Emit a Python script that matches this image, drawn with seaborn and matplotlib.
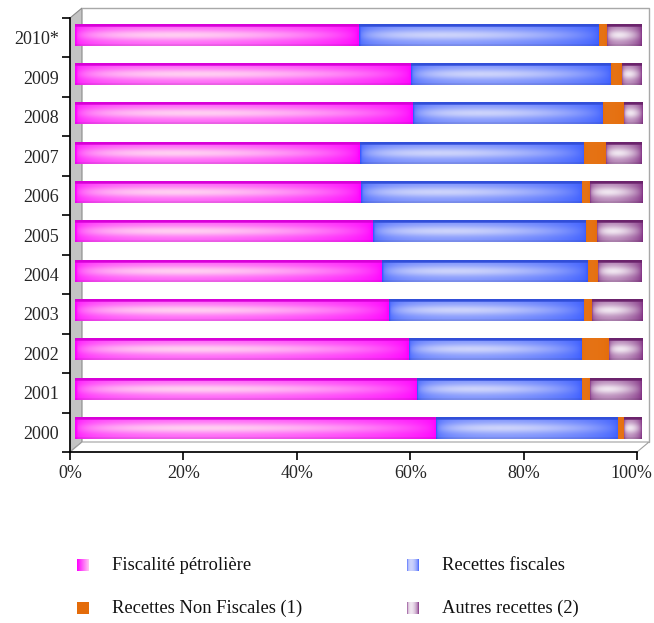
import numpy as np
import pandas as pd
import matplotlib
matplotlib.use("Agg")
import matplotlib.pyplot as plt
import seaborn as sns
from matplotlib.patches import Polygon
from matplotlib.colors import to_rgb

# ---- data (share of total revenue, %) ----
years = ["2010*", "2009", "2008", "2007", "2006", "2005", "2004", "2003", "2002", "2001", "2000"]
fiscalite_petroliere = [50.0, 59.3, 59.6, 50.2, 50.4, 52.5, 54.2, 55.3, 58.9, 60.4, 63.7]
recettes_fiscales = [42.5, 35.3, 33.6, 39.6, 39.1, 37.6, 36.2, 34.5, 30.5, 29.0, 32.1]
recettes_non_fiscales = [1.4, 1.9, 3.6, 3.9, 1.3, 1.9, 1.9, 1.3, 4.7, 1.5, 1.1]
autres_recettes = [6.1, 3.5, 3.2, 6.3, 9.2, 8.0, 7.7, 8.9, 5.9, 9.1, 3.1]

series_names = ["Fiscalité pétrolière", "Recettes fiscales",
                "Recettes Non Fiscales (1)", "Autres recettes (2)"]
x_ticks = [0, 20, 40, 60, 80, 100]
x_tick_labels = ["0%", "20%", "40%", "60%", "80%", "100%"]

# colour: (base, light tint, strength of the highlight)
styles = [
    ("#FF00FF", "#FFEAF0", 0.88),
    ("#3A5CFF", "#E6E8FB", 0.85),
    ("#E46C0A", "#F6B070", 0.10),
    ("#7E2A80", "#F6F0F6", 0.95),
]

W, H = 654, 623
FONT = "Liberation Serif"
sns.set_theme(style="white")
plt.rcParams["font.family"] = [FONT, "DejaVu Serif"]

fig = plt.figure(figsize=(W / 100, H / 100), dpi=100)


def fig_rect(x0, y0, x1, y1):
    return [x0 / W, 1 - y1 / H, (x1 - x0) / W, (y1 - y0) / H]


def shading(base, light, strength, nx=160, ny=48, horizontal_only=False):
    c = np.array(to_rgb(base))
    lt = np.array(to_rgb(light))
    u = np.linspace(0, 1, nx)[None, :]
    v = np.linspace(0, 1, ny)[:, None]
    hp = np.sin(np.pi * np.clip(u, 0, 1) ** 0.65) ** 0.55
    if horizontal_only:
        m = strength * hp * np.ones_like(v)
        return c * (1 - m[..., None]) + lt * m[..., None]
    vp = 0.5 + 0.5 * np.exp(-((v - 0.5) / 0.24) ** 2)
    m = strength * hp * vp
    m = np.where(v < 0.12, 0.0, m)
    img = c * (1 - m[..., None]) + lt * m[..., None]
    # darker top face and lower rim
    dark = np.where(v < 0.12, 0.85, np.where(v > 0.93, 0.92, 1.0))
    img = img * dark[..., None]
    return np.clip(img, 0, 1)


# ---- background: 3D box (left wall, floor, back frame) ----
ax_bg = fig.add_axes([0, 0, 1, 1], zorder=0)
ax_bg.set_xlim(0, W)
ax_bg.set_ylim(H, 0)
ax_bg.axis("off")

fx0, fx1, fy0, fy1 = 70, 637, 18, 452   # front plane
dx, dy = 12, -10                          # depth offset
ax_bg.add_patch(Polygon([(fx0, fy0), (fx0 + dx, fy0 + dy), (fx0 + dx, fy1 + dy), (fx0, fy1)],
                        closed=True, facecolor="#C4C4C4", edgecolor="#8A8A8A", lw=0.8))
ax_bg.add_patch(Polygon([(fx0, fy1), (fx1, fy1), (fx1 + dx, fy1 + dy), (fx0 + dx, fy1 + dy)],
                        closed=True, facecolor="white", edgecolor="#A0A0A0", lw=0.8))
ax_bg.plot([fx0 + dx, fx1 + dx, fx1 + dx], [fy0 + dy, fy0 + dy, fy1 + dy],
           color="#A8A8A8", lw=1.0)

# ---- stacked bars ----
df = pd.DataFrame({"year": years,
                   series_names[0]: fiscalite_petroliere,
                   series_names[1]: recettes_fiscales,
                   series_names[2]: recettes_non_fiscales,
                   series_names[3]: autres_recettes})
cum = df[series_names].cumsum(axis=1)
cum["year"] = df["year"]

ax = fig.add_axes(fig_rect(75, 15, 642, 448), zorder=1)
ax.patch.set_visible(False)
bar_w = 0.55
# draw totals first, each following series on top of the previous one
for name, (base, light, s) in zip(series_names[::-1], styles[::-1]):
    sns.barplot(data=cum, y="year", x=name, order=years, orient="h",
                color=base, width=bar_w, saturation=1, ax=ax, edgecolor="none")

# gradient faces for every visible segment
prev = np.zeros(len(years))
for k, (name, (base, light, s)) in enumerate(zip(series_names, styles)):
    right = cum[name].to_numpy()
    img = shading(base, light, s, horizontal_only=(k == 2))
    for i in range(len(years)):
        ax.imshow(img, extent=(prev[i], right[i], i + bar_w / 2, i - bar_w / 2),
                  aspect="auto", interpolation="bilinear", zorder=3)
    prev = right
ax.set_xlim(0, 100)
ax.set_ylim(len(years) - 0.5, -0.5)
ax.axis("off")

# ---- front axis frame with ticks ----
axf = fig.add_axes(fig_rect(fx0, fy0, fx1, fy1), zorder=2)
axf.patch.set_visible(False)
axf.set_xlim(0, 100)
axf.set_ylim(len(years) - 0.5, -0.5)
for side in ("top", "right"):
    axf.spines[side].set_visible(False)
for side in ("left", "bottom"):
    axf.spines[side].set_color("black")
    axf.spines[side].set_linewidth(1.2)
axf.set_xticks(x_ticks)
# the last label is nudged left so it stays inside the figure
axf.set_xticklabels(x_tick_labels[:-1] + [""], fontsize=13, family=FONT)
axf.annotate(x_tick_labels[-1], xy=(x_ticks[-1], 0), xycoords=("data", "axes fraction"),
             xytext=(-4, -9), textcoords="offset points", ha="center", va="top",
             fontsize=13, family=FONT, annotation_clip=False)
axf.set_yticks(np.arange(len(years) + 1) - 0.5)
axf.set_yticklabels([])
axf.set_yticks(np.arange(len(years)), minor=True)
axf.set_yticklabels(years, minor=True, fontsize=13, family=FONT)
axf.tick_params(axis="y", which="major", length=6, width=1.2, color="black", direction="out", left=True)
axf.tick_params(axis="y", which="minor", length=0, pad=8)
axf.tick_params(axis="x", length=6, width=1.2, color="black", direction="out", bottom=True, pad=3)
axf.grid(False)

# ---- legend ----
legend_pos = [(77, 565), (407, 565), (77, 608), (407, 608)]
for k, (name, (base, light, s)) in enumerate(zip(series_names, styles)):
    x, y = legend_pos[k]
    sq = shading(base, light, s, nx=40, ny=40, horizontal_only=True)
    if k == 0:
        u = np.linspace(0, 1, 40)[None, :, None]
        sq = np.array(to_rgb(base)) * (1 - 0.85 * u) + np.array(to_rgb(light)) * 0.85 * u
        sq = np.repeat(sq, 40, axis=0)
    elif k == 2:
        sq = np.tile(np.array(to_rgb(base)), (40, 40, 1))
    ax_bg.imshow(sq, extent=(x, x + 12, y + 6, y - 6), aspect="auto", zorder=2)
    ax_bg.text(x + 35, y, name, fontsize=13.3, family=FONT, va="center", ha="left", color="#111111")
ax_bg.set_xlim(0, W)
ax_bg.set_ylim(H, 0)

fig.savefig("out.png", dpi=100, facecolor="white")
